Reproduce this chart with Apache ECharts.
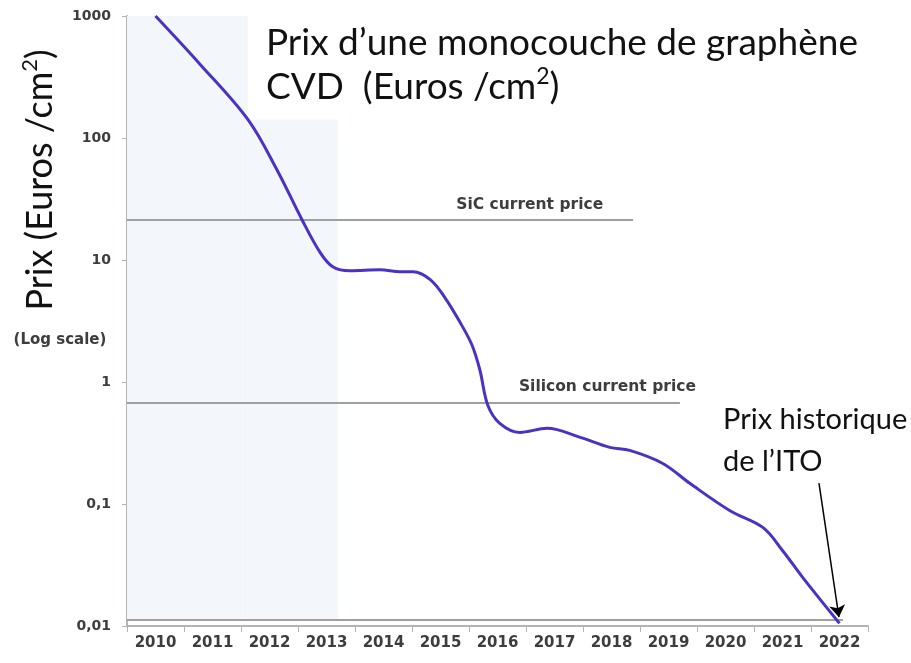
<!DOCTYPE html>
<html>
<head>
<meta charset="utf-8">
<script src="https://cdn.jsdelivr.net/npm/echarts@6/dist/echarts.min.js"></script>
<style>
html, body { margin: 0; padding: 0; background: #fff; }
#graphene_chart { width: 911px; height: 663px; }
</style>
</head>
<body>
<div id="graphene_chart"></div>
<script>
// year labels on the x axis
var yearLabels = ["2010", "2011", "2012", "2013", "2014", "2015", "2016", "2017", "2018", "2019", "2020", "2021", "2022"];

// price curve of CVD graphene monolayer (Euros / cm2)
var curveYears = [2010.0, 2010.78, 2011.62, 2012.13, 2012.57, 2012.89, 2013.11, 2013.41, 2013.94, 2014.29,
    2014.52, 2014.82, 2015.08, 2015.34, 2015.55, 2015.69, 2015.83, 2016.04, 2016.39, 2016.87,
    2017.45, 2017.97, 2018.32, 2018.90, 2019.38, 2020.08, 2020.66, 2021.01, 2021.36, 2022.0];
var curvePrices = [1000, 403, 142, 55, 21.4, 11.5, 8.8, 8.15, 8.3, 8.0,
    8.0, 6.9, 4.9, 3.1, 2.02, 1.26, 0.644, 0.458, 0.386, 0.417,
    0.352, 0.291, 0.275, 0.215, 0.147, 0.088, 0.064, 0.041, 0.0248, 0.0105];

// reference price lines: [value, end year]
var sicPrice = [21.4, 2018.38];
var siliconPrice = [0.67, 2019.2];
var itoPrice = [0.0112, 2022.06];

// shaded periods: [start year, end year, top price]
var shadeBlocks = [[2009.5, 2011.62, 1000], [2011.62, 2013.2, 142]];

// arrow towards the historic ITO price: [year, price] start and end
var arrowFrom = [2021.64, 0.148];
var arrowTo = [2021.99, 0.0118];

var chart = echarts.init(document.getElementById("graphene_chart"));

var labelFont = "DejaVu Sans";
var textFont = "Lato";

function priceLine(p, label) {
    return [{ coord: [2009.5, p[0]], label: label }, { coord: [p[1], p[0]] }];
}

function lineLabel(text, dist) {
    return {
        show: true, formatter: text, position: "insideEndTop", distance: dist,
        color: "#3d3d3d", fontFamily: labelFont, fontWeight: "bold", fontSize: 15.5
    };
}

var option = {
    animation: false,
    grid: { left: 127, right: 43, top: 16, bottom: 37 },
    xAxis: [
        {
            type: "category",
            data: yearLabels,
            boundaryGap: true,
            axisLine: { lineStyle: { color: "#b4b4b4", width: 2 } },
            axisTick: { show: true, length: 6, lineStyle: { color: "#b4b4b4" } },
            axisLabel: { color: "#3d3d3d", fontFamily: labelFont, fontWeight: "bold", fontSize: 15, margin: 10 },
            splitLine: { show: false }
        },
        {
            type: "value",
            min: 2009.5,
            max: 2022.5,
            show: false
        }
    ],
    yAxis: {
        type: "log",
        logBase: 10,
        min: 0.01,
        max: 1000,
        axisLine: { show: true, lineStyle: { color: "#b4b4b4", width: 2 } },
        axisTick: { show: true, length: 5, lineStyle: { color: "#b4b4b4" } },
        axisLabel: {
            color: "#3d3d3d",
            fontFamily: labelFont,
            fontWeight: "bold",
            fontSize: 14,
            margin: 16,
            formatter: function (v) {
                return String(v).replace(".", ",");
            }
        },
        splitLine: { show: false }
    },
    series: [
        {
            type: "line",
            xAxisIndex: 1,
            data: curveYears.map(function (y, i) { return [y, curvePrices[i]]; }),
            smooth: 0.35,
            symbol: "none",
            lineStyle: { color: "#4b31c4", width: 3 },
            z: 5,
            markArea: {
                silent: true,
                itemStyle: { color: "#f3f7fc" },
                data: shadeBlocks.map(function (b) {
                    return [{ coord: [b[0], b[2]] }, { coord: [b[1], itoPrice[0]] }];
                })
            }
        },
        {
            type: "line",
            xAxisIndex: 1,
            data: [],
            markLine: {
                silent: true,
                symbol: "none",
                lineStyle: { color: "#a0a0a0", width: 2, type: "solid" },
                data: [
                    priceLine(sicPrice, lineLabel("SiC current price", [30, 7])),
                    priceLine(siliconPrice, lineLabel("Silicon current price", [-16, 8])),
                    priceLine(itoPrice, { show: false })
                ]
            }
        },
        {
            type: "line",
            xAxisIndex: 1,
            data: [],
            markLine: {
                silent: true,
                symbol: ["none", "arrow"],
                symbolSize: 12,
                lineStyle: { color: "#000", width: 1.5, type: "solid" },
                label: { show: false },
                data: [[{ coord: arrowFrom }, { coord: arrowTo }]]
            }
        }
    ],
    graphic: [
        {
            type: "text",
            left: 266,
            top: 25,
            style: {
                text: "{a|Prix d\u2019une monocouche de graphène}\n{a|CVD  (Euros /cm}{s|2}{a|)}",
                fill: "#111",
                rich: {
                    a: { fontFamily: textFont, fontSize: 37, lineHeight: 44, fill: "#111", color: "#111" },
                    s: { fontFamily: textFont, fontSize: 23, lineHeight: 44, verticalAlign: "top", fill: "#111", color: "#111" }
                }
            }
        },
        {
            type: "text",
            x: 40,
            y: 180,
            rotation: Math.PI / 2,
            style: {
                text: "{a|Prix (Euros /cm}{s|2}{a|)}",
                fill: "#111",
                align: "center",
                textAlign: "center",
                verticalAlign: "middle",
                textVerticalAlign: "middle",
                rich: {
                    a: { fontFamily: textFont, fontSize: 36, lineHeight: 42, fill: "#111", color: "#111" },
                    s: { fontFamily: textFont, fontSize: 22, lineHeight: 42, verticalAlign: "top", fill: "#111", color: "#111" }
                }
            }
        },
        {
            type: "text",
            x: 60,
            y: 340,
            style: {
                text: "(Log scale)",
                font: "bold 15px " + labelFont,
                fill: "#3d3d3d",
                align: "center",
                textAlign: "center",
                verticalAlign: "middle",
                textVerticalAlign: "middle"
            }
        },
        {
            type: "text",
            left: 723,
            top: 399,
            style: {
                text: "Prix historique\nde l\u2019ITO",
                font: "29px " + textFont,
                lineHeight: 42,
                fill: "#111"
            }
        }
    ]
};

chart.setOption(option);
</script>
</body>
</html>
